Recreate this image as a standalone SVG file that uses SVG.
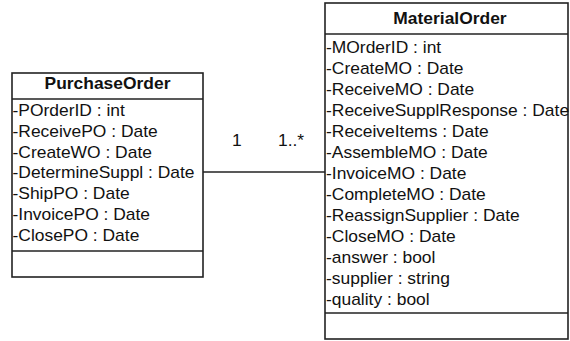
<svg xmlns="http://www.w3.org/2000/svg" width="570" height="341" viewBox="0 0 570 341">
<style>
.box{fill:#fff;stroke:#222;stroke-width:1.6}
.sep{stroke:#222;stroke-width:1.6}
text{font-family:"Liberation Sans",Arial,sans-serif;font-size:16px;fill:#111}
.title{font-weight:bold;text-anchor:middle}
</style>
<rect width="570" height="341" fill="#fff"/>
<g id="connectors">
<line x1="203" y1="172" x2="325" y2="172" class="sep"/>
<g transform="translate(0,0)">
<text x="232" y="146" transform="translate(232,0) scale(1.09,1) translate(-232,0)">1</text>
<text x="278" y="146" transform="translate(278,0) scale(1.09,1) translate(-278,0)">1..*</text>
</g>
</g>
<g id="PurchaseOrder">
<rect class="box" x="12" y="73" width="191" height="204"/>
<line class="sep" x1="12" y1="99" x2="203" y2="99"/>
<line class="sep" x1="12" y1="251" x2="203" y2="251"/>
<g transform="translate(107.5,0) scale(1.09,1)">
<text class="title" x="0" y="89">PurchaseOrder</text>
</g>
<g transform="translate(12.5,0) scale(1.09,1)">
<text x="0" y="116">-POrderID : int</text>
<text x="0" y="136.8">-ReceivePO : Date</text>
<text x="0" y="157.6">-CreateWO : Date</text>
<text x="0" y="178.4">-DetermineSuppl : Date</text>
<text x="0" y="199.2">-ShipPO : Date</text>
<text x="0" y="220">-InvoicePO : Date</text>
<text x="0" y="240.8">-ClosePO : Date</text>
</g>
</g>
<g id="MaterialOrder">
<rect class="box" x="325" y="3" width="243" height="336"/>
<line class="sep" x1="325" y1="34" x2="568" y2="34"/>
<line class="sep" x1="325" y1="313" x2="568" y2="313"/>
<g transform="translate(450,0) scale(1.09,1)">
<text class="title" x="0" y="24">MaterialOrder</text>
</g>
<g transform="translate(326,0) scale(1.09,1)">
<text x="0" y="53.5">-MOrderID : int</text>
<text x="0" y="74.5">-CreateMO : Date</text>
<text x="0" y="95.4">-ReceiveMO : Date</text>
<text x="0" y="116.4">-ReceiveSupplResponse : Date</text>
<text x="0" y="137.4">-ReceiveItems : Date</text>
<text x="0" y="158.4">-AssembleMO : Date</text>
<text x="0" y="179.3">-InvoiceMO : Date</text>
<text x="0" y="200.3">-CompleteMO : Date</text>
<text x="0" y="221.3">-ReassignSupplier : Date</text>
<text x="0" y="242.2">-CloseMO : Date</text>
<text x="0" y="263.2">-answer : bool</text>
<text x="0" y="284.2">-supplier : string</text>
<text x="0" y="305.1">-quality : bool</text>
</g>
</g>
</svg>
